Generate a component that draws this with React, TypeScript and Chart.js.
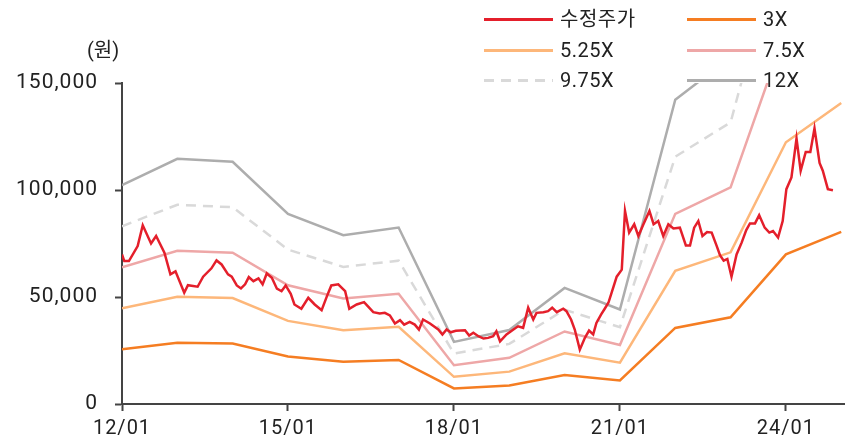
import React, { useEffect, useRef } from "react";
import { Chart, registerables } from "chart.js";

Chart.register(...registerables);

// PER band: yearly EPS (원) at each January, 2012/01 .. 2025/01
const bandYears = [2012, 2013, 2014, 2015, 2016, 2017, 2018, 2019, 2020, 2021, 2022, 2023, 2024, 2025];
const bandEps = [8520, 9550, 9430, 7400, 6570, 6870, 2420, 2880, 4520, 3680, 11850, 13500, 23300, 26800];
const bandMultiples = [3, 5.25, 7.5, 9.75, 12];
const bandLabels = ["3X", "5.25X", "7.5X", "9.75X", "12X"];

// 수정주가: month offset from 2012/01, price (원)
const priceMonths = [
  0, 0.5, 1.5, 3.4, 4.5, 6.3, 7.4, 9.2, 10.5, 11.6, 13.5, 14.3, 16.4, 17.6, 19.4, 20.5, 21.6, 23, 23.8, 24.9,
  25.8, 26.7, 27.5, 28.5, 29.6, 30.5, 31.4, 32.5, 33.6, 34.6, 35.5, 36.6, 37.4, 38.9, 40.4, 41.8, 43.3, 44.6,
  45.4, 46.9, 48.4, 49.3, 50.9, 52.5, 53.3, 54.5, 55.9, 57, 58.1, 59.2, 60.3, 61.2, 62.4, 63.5, 64.4, 65.3,
  66.8, 68.6, 69.5, 70.4, 71.3, 72.4, 74.4, 75.3, 76.2, 77.3, 78.4, 79.4, 80.5, 81.2, 82, 83.4, 84.9, 85.9,
  87, 88.1, 89.2, 89.9, 91.4, 92.4, 93.3, 94.3, 95.7, 96.4, 97.4, 98.2, 99.3, 100.4, 101.3, 102.2, 102.9,
  103.9, 104.7, 105.5, 106.2, 107.3, 108.4, 109.1, 110, 111.1, 112, 113.1, 114.4, 115.3, 116.3, 117.4, 118.5,
  119.6, 121, 122.3, 123.2, 124.1, 125, 125.9, 126.9, 127.9, 129, 129.7, 130.5, 131.3, 132.2, 133.3, 134.4,
  135.4, 136.2, 137.3, 138.2, 139.4, 140.4, 141.2, 142.3, 143.3, 144.1, 145.2, 146.3, 147.2, 148.3, 149.3,
  150.2, 151.3, 152, 153.1, 154.2,
];
const priceValues = [
  69900, 66800, 66800, 73800, 83500, 75000, 78500, 70700, 60600, 62000, 52000, 55500, 54800, 59500, 63400,
  67100, 65200, 60600, 59500, 55400, 54000, 55900, 59300, 57400, 58700, 55900, 61000, 59000, 53900, 52700,
  55400, 51500, 46500, 44500, 49600, 46500, 43800, 51200, 55400, 55900, 52700, 44500, 46500, 47600, 45700,
  42900, 42300, 42600, 41400, 37600, 39200, 37100, 38400, 37100, 34800, 39500, 37600, 34800, 32500, 34800,
  33500, 34200, 34500, 32000, 33300, 31700, 30600, 30900, 31700, 34000, 29300, 32500, 34800, 36300, 35600,
  45000, 39500, 42600, 42900, 43400, 45000, 42900, 44500, 43400, 39500, 34800, 25400, 30900, 34300, 32500,
  37900, 41800, 44500, 47300, 52000, 59500, 62800, 90200, 80100, 84000, 78500, 84000, 90200, 84000, 85500,
  78500, 84000, 82000, 82400, 74100, 74100, 82400, 85500, 78500, 80400, 80100, 73800, 69500, 67000, 67800,
  59500, 69900, 75400, 81300, 84400, 84400, 88200, 82400, 80100, 80800, 77800, 85500, 100400, 105900, 124100,
  109000, 117800, 117800, 128800, 112600, 109000, 100400, 99900,
];

const xTickMonths = [0, 36, 72, 108, 144];
const xTickLabels = ["12/01", "15/01", "18/01", "21/01", "24/01"];
const yTicks = [0, 50000, 100000, 150000];

const priceLabel = "수정주가";
const priceColor = "#e41f2b";
const bandColors = ["#f57d22", "#fdb77a", "#eea7a7", "#d9d9d9", "#adadad"];
const bandDash = [[], [], [], [10, 7], []];

const FONT = "Roboto, 'Noto Sans CJK KR', sans-serif";

export default function App() {
  const canvasRef = useRef<HTMLCanvasElement | null>(null);

  useEffect(() => {
    if (!canvasRef.current) return;
    const priceData = priceMonths.map((m, i) => ({ x: m, y: priceValues[i] }));
    const bandSets = bandMultiples.map((mult, bi) => ({
      label: bandLabels[bi],
      data: bandYears.map((yr, i) => ({ x: (yr - 2012) * 12, y: bandEps[i] * mult })),
      borderColor: bandColors[bi],
      backgroundColor: bandColors[bi],
      borderWidth: 2.5,
      borderDash: bandDash[bi],
      pointRadius: 0,
      tension: 0,
    }));
    const spacingPlugin = {
      id: "spacing",
      beforeDraw(chart: any) {
        chart.ctx.letterSpacing = "1px";
      },
    };
    const chart = new Chart(canvasRef.current, {
      type: "line",
      data: {
        datasets: [
          {
            label: priceLabel,
            data: priceData,
            borderColor: priceColor,
            backgroundColor: priceColor,
            borderWidth: 2.5,
            pointRadius: 0,
            tension: 0,
          },
          ...bandSets,
        ] as any,
      },
      options: {
        animation: false,
        responsive: false,
        maintainAspectRatio: false,
        layout: { padding: { top: 83, right: 10, left: 0, bottom: 0 } },
        plugins: { legend: { display: false }, tooltip: { enabled: false } },
        scales: {
          x: {
            type: "linear",
            min: 0,
            max: 156.6,
            afterBuildTicks: (scale: any) => {
              scale.ticks = xTickMonths.map((v) => ({ value: v }));
            },
            afterFit: (scale: any) => {
              scale.height = 42;
            },
            ticks: {
              autoSkip: false,
              maxRotation: 0,
              padding: 6,
              color: "#222",
              font: { family: FONT, size: 20 },
              callback: (_v: any, i: number) => xTickLabels[i],
            },
            grid: { drawOnChartArea: false, drawTicks: true, tickLength: 7, tickWidth: 2, tickColor: "#444" },
            border: { display: true, color: "#444", width: 2 },
          },
          y: {
            type: "linear",
            min: 0,
            max: 150000,
            afterBuildTicks: (scale: any) => {
              scale.ticks = yTicks.map((v) => ({ value: v }));
            },
            afterFit: (scale: any) => {
              scale.width = 122;
            },
            ticks: {
              padding: 17,
              color: "#222",
              font: { family: FONT, size: 21 },
              callback: (v: any) => Number(v).toLocaleString("en-US"),
            },
            grid: { drawOnChartArea: false, drawTicks: true, tickLength: 7, tickWidth: 2, tickColor: "#444" },
            border: { display: true, color: "#444", width: 2 },
          },
        },
      },
      plugins: [spacingPlugin],
    });
    return () => chart.destroy();
  }, []);

  const legendItems = [
    { label: priceLabel, color: priceColor, dash: false },
    ...bandLabels.map((l, i) => ({ label: l, color: bandColors[i], dash: bandDash[i].length > 0 })),
  ];
  const colX = [484, 687];
  const rowY = [19, 50, 80];

  return (
    <div style={{ position: "absolute", left: 0, top: 0, width: 854, height: 446, background: "#fff", overflow: "hidden" }}>
      <canvas ref={canvasRef} width={854} height={446} style={{ position: "absolute", left: 0, top: 0, width: 854, height: 446 }} />
      <div
        style={{
          position: "absolute",
          left: 87,
          top: 38,
          fontFamily: FONT,
          fontSize: 20,
          lineHeight: "24px",
          color: "#222",
        }}
      >
        (원)
      </div>
      {legendItems.map((it, i) => {
        const x = colX[i % 2];
        const y = rowY[Math.floor(i / 2)];
        return (
          <div key={it.label} style={{ position: "absolute", left: x, top: y - 12, height: 24, display: "flex", alignItems: "center" }}>
            <div
              style={{
                width: 69,
                height: 3,
                background: it.dash
                  ? `repeating-linear-gradient(to right, ${it.color} 0px, ${it.color} 10px, transparent 10px, transparent 17px)`
                  : it.color,
              }}
            />
            <div
              style={{
                marginLeft: 7,
                fontFamily: FONT,
                fontSize: 20,
                lineHeight: "24px",
                color: "#222",
                letterSpacing: "0.5px",
                whiteSpace: "nowrap",
              }}
            >
              {it.label}
            </div>
          </div>
        );
      })}
    </div>
  );
}
